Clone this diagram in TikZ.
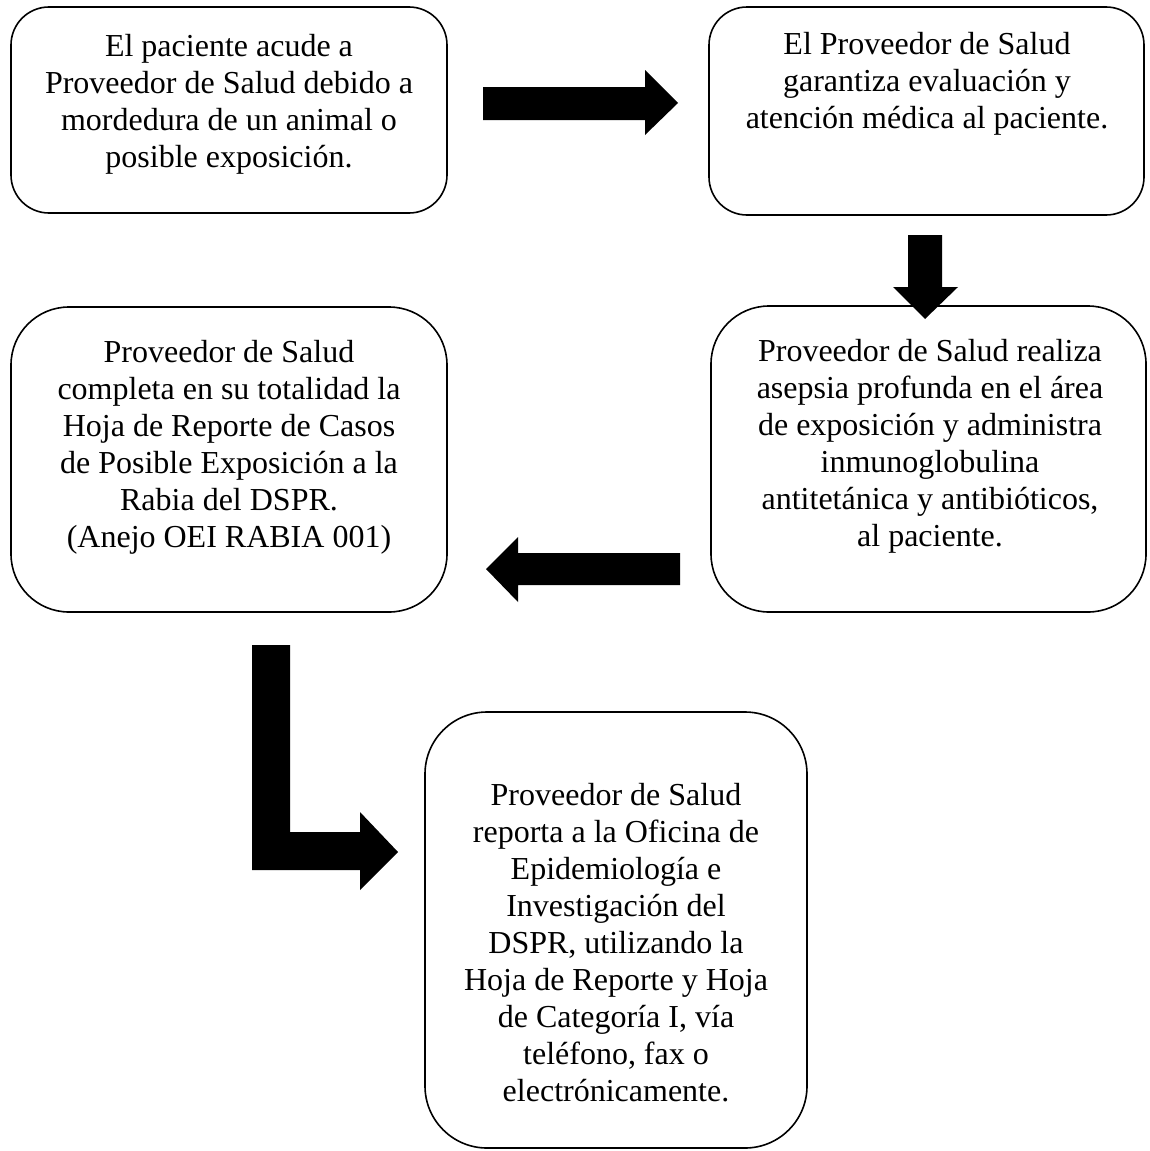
\documentclass[tikz,border=0pt]{standalone}
\usepackage{fontspec}
\setmainfont{Liberation Serif}
\begin{document}
\begin{tikzpicture}[x=1pt,y=-1pt,
  box/.style={draw, line width=1.6pt, rounded corners=#1, inner sep=0pt},
  txt/.style={align=center, font=\fontsize{32}{37}\selectfont, inner sep=0pt},
  blockarrow/.style={fill=black, draw=none}]
\useasboundingbox (0,0) rectangle (1150,1151);
% boxes
\node[box=38, minimum width=436pt, minimum height=206pt] (b1) at (229,110) {};
\node[box=38, minimum width=435pt, minimum height=208pt] (b2) at (926.5,111) {};
\node[box=58, minimum width=435pt, minimum height=306pt] (b3) at (928.5,459) {};
\node[box=58, minimum width=436pt, minimum height=305pt] (b4) at (229,459.5) {};
\node[box=62, minimum width=382pt, minimum height=436pt] (b5) at (616,930) {};
% texts
\node[txt] (t1) at (229,104) {El paciente acude a\\Proveedor de Salud debido a\\mordedura de un animal o\\posible exposición.};
\node[txt] (t2) at (927,84) {El Proveedor de Salud\\garantiza evaluación y\\atención médica al paciente.};
\node[txt] (t3) at (930,446) {Proveedor de Salud realiza\\asepsia profunda en el área\\de exposición y administra\\inmunoglobulina\\antitetánica y antibióticos,\\al paciente.};
\node[txt] (t4) at (229,447) {Proveedor de Salud\\completa en su totalidad la\\Hoja de Reporte de Casos\\de Posible Exposición a la\\Rabia del DSPR.\\(Anejo OEI RABIA 001)};
\node[txt] (t5) at (616,943) {Proveedor de Salud\\reporta a la Oficina de\\Epidemiología e\\Investigación del\\DSPR, utilizando la\\Hoja de Reporte y Hoja\\de Categoría I, vía\\teléfono, fax o\\electrónicamente.};
% block arrows
\fill[blockarrow] (483,87) -- (645,87) -- (645,70) -- (678,103) -- (645,135) -- (645,120) -- (483,120) -- cycle;
\fill[blockarrow] (908,235) -- (942,235) -- (942,287) -- (958,287) -- (925,319) -- (893,287) -- (908,287) -- cycle;
\fill[blockarrow] (680,553) -- (518,553) -- (518,537) -- (486,569) -- (518,602) -- (518,585) -- (680,585) -- cycle;
\fill[blockarrow] (252,645) -- (290,645) -- (290,832) -- (360,832) -- (360,812) -- (398,852) -- (360,890) -- (360,870) -- (252,870) -- cycle;
\end{tikzpicture}
\end{document}
